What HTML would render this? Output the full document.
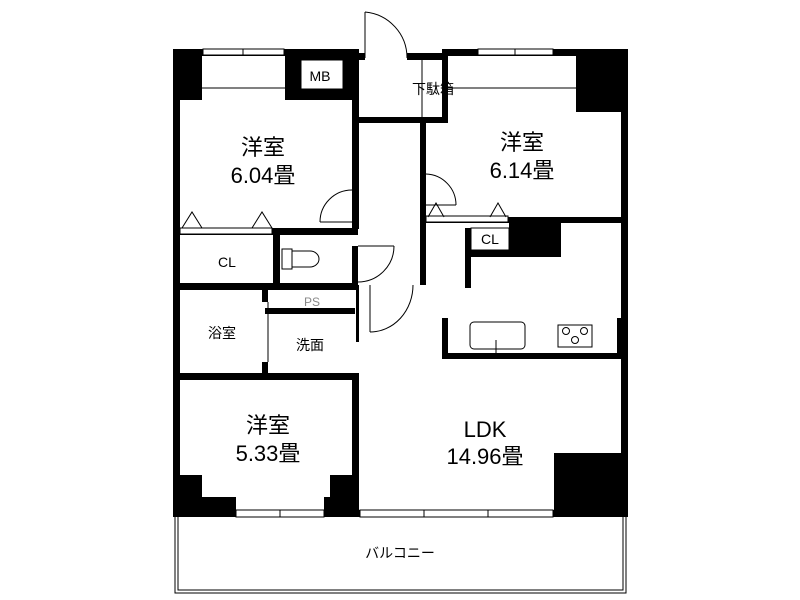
<!DOCTYPE html>
<html><head><meta charset="utf-8"><style>
html,body{margin:0;padding:0;background:#fff;width:800px;height:600px;overflow:hidden}
text{font-family:"Liberation Sans","Noto Sans CJK JP",sans-serif;fill:#000}
</style></head><body>
<svg width="800" height="600" viewBox="0 0 800 600" xmlns="http://www.w3.org/2000/svg">
<g fill="#000">
<rect x="173" y="49" width="185" height="7"/>
<rect x="173" y="49" width="7" height="468"/>
<rect x="442" y="49" width="186" height="7"/>
<rect x="621" y="49" width="7" height="468"/>
<rect x="173" y="510" width="455" height="7"/>
<rect x="173" y="49" width="29" height="51"/>
<rect x="285" y="49" width="73" height="51"/>
<rect x="576" y="49" width="52" height="63"/>
<rect x="173" y="475" width="29" height="42"/>
<rect x="173" y="497" width="63" height="20"/>
<rect x="330" y="475" width="28" height="42"/>
<rect x="324" y="497" width="34" height="20"/>
<rect x="554" y="453" width="74" height="64"/>
<rect x="358" y="53" width="7" height="7"/>
<rect x="407" y="53" width="41" height="7"/>
<rect x="442" y="49" width="6" height="74"/>
<rect x="358" y="117" width="90" height="6"/>
<rect x="352" y="49" width="7" height="180"/>
<rect x="352" y="246" width="6" height="40"/>
<rect x="420" y="117" width="6" height="168"/>
<rect x="173" y="228" width="185" height="7"/>
<rect x="273" y="235" width="7" height="50"/>
<rect x="173" y="283" width="185" height="7"/>
<rect x="262" y="290" width="6" height="12"/>
<rect x="262" y="362" width="6" height="12"/>
<rect x="265" y="308" width="90" height="6"/>
<rect x="173" y="373" width="185" height="7"/>
<rect x="352" y="373" width="7" height="144"/>
<rect x="356" y="285" width="3" height="57"/>
<rect x="426" y="217" width="202" height="6"/>
<rect x="465" y="228" width="6" height="60"/>
<rect x="465" y="250" width="95" height="7"/>
<rect x="509" y="217" width="52" height="40"/>
<rect x="442" y="318" width="6" height="41"/>
<rect x="442" y="353" width="186" height="6"/>
<rect x="617" y="318" width="11" height="41"/>
</g>
<g fill="#fff" stroke="#000" stroke-width="1">
<rect x="203" y="49" width="81" height="6"/>
<rect x="478" y="49" width="75" height="6"/>
<rect x="236" y="510" width="88" height="7"/>
<rect x="360" y="510" width="193" height="7"/>
<rect x="301" y="60" width="42" height="29"/>
<rect x="180" y="228" width="92" height="6"/>
<rect x="426" y="216" width="82" height="6"/>
<rect x="471" y="228" width="38" height="22"/>
<rect x="470" y="322" width="55" height="27" rx="4"/>
<rect x="558" y="325" width="34" height="22"/>
</g>
<g stroke="#000" stroke-width="1" fill="none">
<line x1="243" y1="49" x2="243" y2="56"/><line x1="515" y1="49" x2="515" y2="56"/>
<line x1="280" y1="510" x2="280" y2="517"/><line x1="424" y1="510" x2="424" y2="517"/><line x1="488" y1="510" x2="488" y2="517"/>
<line x1="202" y1="88" x2="285" y2="88"/><line x1="448" y1="88" x2="576" y2="88"/>
<line x1="422" y1="60" x2="422" y2="117"/>
<polyline points="182,228 192,212 202,228"/><polyline points="252,228 262,212 272,228"/>
<polyline points="428,217 436,203 444,217"/><polyline points="490,217 498,203 506,217"/>
<line x1="365" y1="12" x2="365" y2="58"/><path d="M365,12 A46,46 0 0 1 407,58"/>
<line x1="320" y1="222" x2="352" y2="222"/><path d="M320,222 A32,32 0 0 1 352,190"/>
<line x1="358" y1="246" x2="394" y2="246"/><path d="M394,246 A36,36 0 0 1 358,282"/>
<line x1="426" y1="205" x2="456" y2="205"/><path d="M426,174 A31,31 0 0 1 456,205"/>
<line x1="370" y1="285" x2="370" y2="332"/><path d="M413,285 A43,47 0 0 1 370,332"/>
<line x1="268" y1="302" x2="268" y2="362"/>
<line x1="496" y1="340" x2="496" y2="353"/>
<circle cx="566" cy="331" r="3.5"/><circle cx="584" cy="331" r="3.5"/><circle cx="575" cy="340" r="3.5"/>
<path d="M282,249 h10 v20 h-10 z"/><path d="M292,251 h18 a9,8 0 0 1 0,16 h-18"/>
<path d="M175,517 V593 H626 V517"/><path d="M178,517 V590 H623 V517"/>
</g>
<g text-anchor="middle">
<text x="263" y="155" font-size="22">洋室</text><text x="263" y="183" font-size="22">6.04畳</text>
<text x="522" y="150" font-size="22">洋室</text><text x="522" y="178" font-size="22">6.14畳</text>
<text x="268" y="433" font-size="22">洋室</text><text x="268" y="461" font-size="22">5.33畳</text>
<text x="485" y="437" font-size="22">LDK</text><text x="485" y="464" font-size="22">14.96畳</text>
<text x="320" y="81" font-size="14">MB</text>
<text x="433" y="94" font-size="14">下駄箱</text>
<text x="227" y="267" font-size="14">CL</text>
<text x="490" y="244" font-size="14">CL</text>
<text x="222" y="338" font-size="14">浴室</text>
<text x="310" y="350" font-size="14">洗面</text>
<text x="312" y="306" font-size="12" style="fill:#888">PS</text>
<text x="400" y="558" font-size="14">バルコニー</text>
</g>
</svg>
</body></html>
